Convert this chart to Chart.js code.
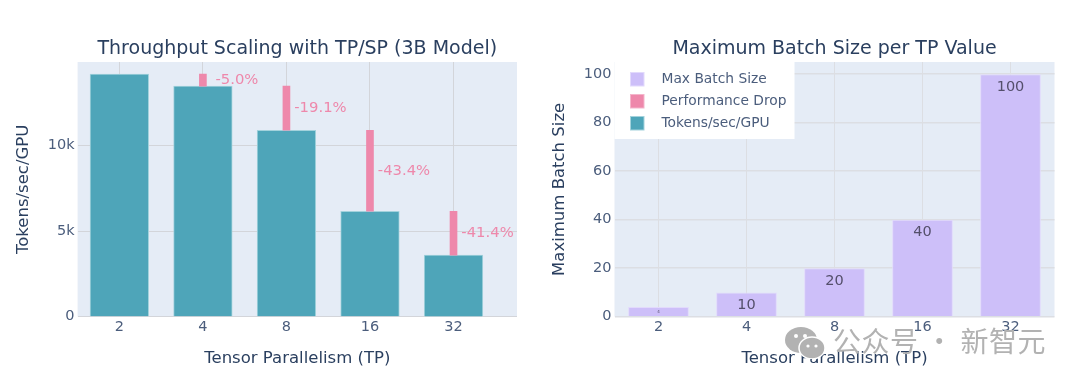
<!DOCTYPE html>
<html>

<head>
    <meta charset="utf-8">
    <title>TP scaling</title>
    <script src="https://cdn.jsdelivr.net/npm/chart.js@4.4.0/dist/chart.umd.min.js"></script>
    <style>
        html, body { margin: 0; padding: 0; background: #fff; overflow: hidden; }
        #wrap { position: relative; width: 1080px; height: 387px; }
        canvas { position: absolute; top: 0; }
        #left { left: 0; }
        #right { left: 540px; }
        #mark { position: absolute; left: 785px; top: 322px; height: 36px; display: flex; align-items: center; color: #b2b2b2; font: 28px "Noto Sans CJK SC"; letter-spacing: 0.5px; white-space: nowrap; }
        #mark svg { margin-right: 8px; margin-top: 6px; }
    </style>
</head>

<body>
    <div id="wrap">
        <canvas id="left" width="540" height="387"></canvas>
        <canvas id="right" width="540" height="387"></canvas>
        <div id="mark">
            <svg width="40" height="32" viewBox="0 0 40 32">
                <ellipse cx="16" cy="13" rx="16" ry="13" fill="#b2b2b2" />
                <ellipse cx="27" cy="21" rx="13" ry="11" fill="#b2b2b2" stroke="#fff" stroke-width="1.5" />
                <circle cx="11" cy="9" r="2" fill="#fff" />
                <circle cx="20" cy="9" r="2" fill="#fff" />
                <circle cx="23" cy="19" r="1.6" fill="#fff" />
                <circle cx="31" cy="19" r="1.6" fill="#fff" />
            </svg>
            <span>公众号 · 新智元</span>
        </div>
    </div>
    <script>
        // values
        const tpLabels = ['2', '4', '8', '16', '32'];
        const tokensPerSec = [14160, 13450, 10880, 6150, 3590];
        const tokenTicks = [0, 5000, 10000];
        const dropLabels = [null, '-5.0%', '-19.1%', '-43.4%', '-41.4%'];
        const batchSizes = [4, 10, 20, 40, 100];
        const batchTicks = [0, 20, 40, 60, 80, 100];
        const legendNames = ['Max Batch Size', 'Performance Drop', 'Tokens/sec/GPU'];

        const FONT = '"DejaVu Sans", Verdana, sans-serif';
        const INK = '#2a3f5f';
        const TICK = '#4b5d7c';
        const TEAL = '#4ea5b9';
        const TEAL_EDGE = '#a3d2dc';
        const PINK = '#ee88ab';
        const PINK_EDGE = '#f4b5cb';
        const PURPLE = '#cdbff9';
        const PURPLE_EDGE = '#e2dafc';
        const GRID = '#d3d5da';
        const GRID_RIGHT = '#dcdee3';
        const PLOT_BG = '#e5ecf6';

        const plotBg = {
            id: 'plotBg',
            beforeDraw(chart) {
                const a = chart.chartArea;
                chart.ctx.fillStyle = PLOT_BG;
                chart.ctx.fillRect(a.left, a.top, a.right - a.left, a.bottom - a.top);
            }
        };

        function titleOpts(text) {
            return {
                display: true, text: text, color: INK, fullSize: false,
                font: { family: FONT, size: 19, weight: 'normal', lineHeight: 1.2 },
                padding: { top: 0, bottom: 1.2 }
            };
        }

        function axisTitle(text) {
            return { display: true, text: text, color: INK, padding: 0, font: { family: FONT, size: 16.5, lineHeight: 1.2 } };
        }

        function xScale(gridColor, extra) {
            return Object.assign({
                grid: { color: gridColor, drawTicks: false, offset: false },
                border: { display: false },
                title: axisTitle('Tensor Parallelism (TP)'),
                afterFit(s) { s.height = 51.8; }
            }, extra);
        }

        function yScale(name, max, tickValues, width, gridColor, lineWidth, fmt) {
            return {
                min: 0, max: max,
                grid: { color: gridColor, lineWidth: lineWidth, drawTicks: false },
                border: { display: false },
                title: axisTitle(name),
                ticks: {
                    padding: 3, color: TICK,
                    font: { family: FONT, size: 14.5 }, callback: fmt
                },
                afterBuildTicks(s) { s.ticks = tickValues.map(function (v) { return { value: v }; }); },
                afterFit(s) { s.width = width; }
            };
        }

        // text next to the pink drop bars
        const dropText = {
            id: 'dropText',
            afterDatasetsDraw(chart) {
                const ctx = chart.ctx, x = chart.scales.x, y = chart.scales.y;
                ctx.save();
                ctx.font = '14.8px ' + FONT;
                ctx.fillStyle = PINK;
                ctx.textAlign = 'center';
                ctx.textBaseline = 'middle';
                dropLabels.forEach(function (label, i) {
                    if (!label) return;
                    const mid = (tokensPerSec[i] + tokensPerSec[i - 1]) / 2;
                    ctx.fillText(label, x.getPixelForValue(i) + 34, y.getPixelForValue(mid));
                });
                ctx.restore();
            }
        };

        new Chart(document.getElementById('left'), {
            type: 'bar',
            data: {
                datasets: [
                    {
                        label: 'Performance Drop',
                        grouped: false,
                        barThickness: 7,
                        backgroundColor: PINK,
                        borderColor: PINK_EDGE,
                        borderWidth: 0,
                        data: tokensPerSec.slice(1).map(function (v, i) {
                            return { x: i + 1, y: [v, tokensPerSec[i]] };
                        })
                    },
                    {
                        label: 'Tokens/sec/GPU',
                        grouped: false,
                        barThickness: 58.6,
                        backgroundColor: TEAL,
                        borderColor: TEAL_EDGE,
                        borderWidth: 1,
                        data: tokensPerSec.map(function (v, i) { return { x: i, y: v }; })
                    }
                ]
            },
            options: {
                responsive: false,
                animation: false,
                layout: { padding: { left: 14, right: 23, top: 38, bottom: 18.5 } },
                plugins: {
                    legend: { display: false },
                    tooltip: { enabled: false },
                    title: titleOpts('Throughput Scaling with TP/SP (3B Model)')
                },
                scales: {
                    x: xScale(GRID, {
                        type: 'linear', offset: false, min: -0.5, max: 4.76,
                        ticks: {
                            padding: 2, color: TICK, font: { family: FONT, size: 14.5 },
                            callback: function (v) { return tpLabels[v]; }
                        },
                        afterBuildTicks(s) { s.ticks = tpLabels.map(function (l, i) { return { value: i }; }); }
                    }),
                    y: yScale('Tokens/sec/GPU', 14860, tokenTicks, 63.6, GRID, 1, function (v) {
                        return v ? (v / 1000) + 'k' : '0';
                    })
                }
            },
            plugins: [plotBg, dropText]
        });

        // values inside the purple bars, the first one is squeezed to a dot
        const batchText = {
            id: 'batchText',
            afterDatasetsDraw(chart) {
                const ctx = chart.ctx, x = chart.scales.x, y = chart.scales.y;
                ctx.save();
                ctx.fillStyle = '#544f6b';
                ctx.textAlign = 'center';
                ctx.textBaseline = 'middle';
                batchSizes.forEach(function (v, i) {
                    const small = v < 10;
                    ctx.font = (small ? 4 : 14.5) + 'px ' + FONT;
                    ctx.fillText(String(v), x.getPixelForValue(i), y.getPixelForValue(v) + (small ? 4.5 : 13));
                });
                ctx.restore();
            }
        };

        const floatingLegend = {
            id: 'floatingLegend',
            afterDraw(chart) {
                const ctx = chart.ctx, a = chart.chartArea;
                const fills = [PURPLE, PINK, TEAL];
                const edges = [PURPLE_EDGE, PINK_EDGE, TEAL_EDGE];
                ctx.save();
                ctx.fillStyle = '#fff';
                ctx.fillRect(a.left, a.top, 180, 77);
                ctx.font = '13.8px ' + FONT;
                ctx.textBaseline = 'middle';
                legendNames.forEach(function (name, i) {
                    const cy = a.top + 17 + i * 22;
                    ctx.fillStyle = fills[i];
                    ctx.strokeStyle = edges[i];
                    ctx.fillRect(a.left + 16, cy - 6.5, 13.5, 13.5);
                    ctx.strokeRect(a.left + 16, cy - 6.5, 13.5, 13.5);
                    ctx.fillStyle = TICK;
                    ctx.fillText(name, a.left + 47, cy);
                });
                ctx.restore();
            }
        };

        new Chart(document.getElementById('right'), {
            type: 'bar',
            data: {
                labels: tpLabels,
                datasets: [{
                    label: 'Max Batch Size',
                    backgroundColor: PURPLE,
                    borderColor: PURPLE_EDGE,
                    borderWidth: 1,
                    barPercentage: 0.69,
                    categoryPercentage: 1,
                    data: batchSizes
                }]
            },
            options: {
                responsive: false,
                animation: false,
                layout: { padding: { left: 10, right: 25.5, top: 38, bottom: 18.5 } },
                plugins: {
                    legend: { display: false },
                    tooltip: { enabled: false },
                    title: titleOpts('Maximum Batch Size per TP Value')
                },
                scales: {
                    x: xScale(GRID_RIGHT, {
                        offset: true,
                        ticks: { padding: 2, color: TICK, font: { family: FONT, size: 14.5 } }
                    }),
                    y: yScale('Maximum Batch Size', 105, batchTicks, 64.5, GRID_RIGHT, 1.5)
                }
            },
            plugins: [plotBg, batchText, floatingLegend]
        });
    </script>
</body>

</html>
